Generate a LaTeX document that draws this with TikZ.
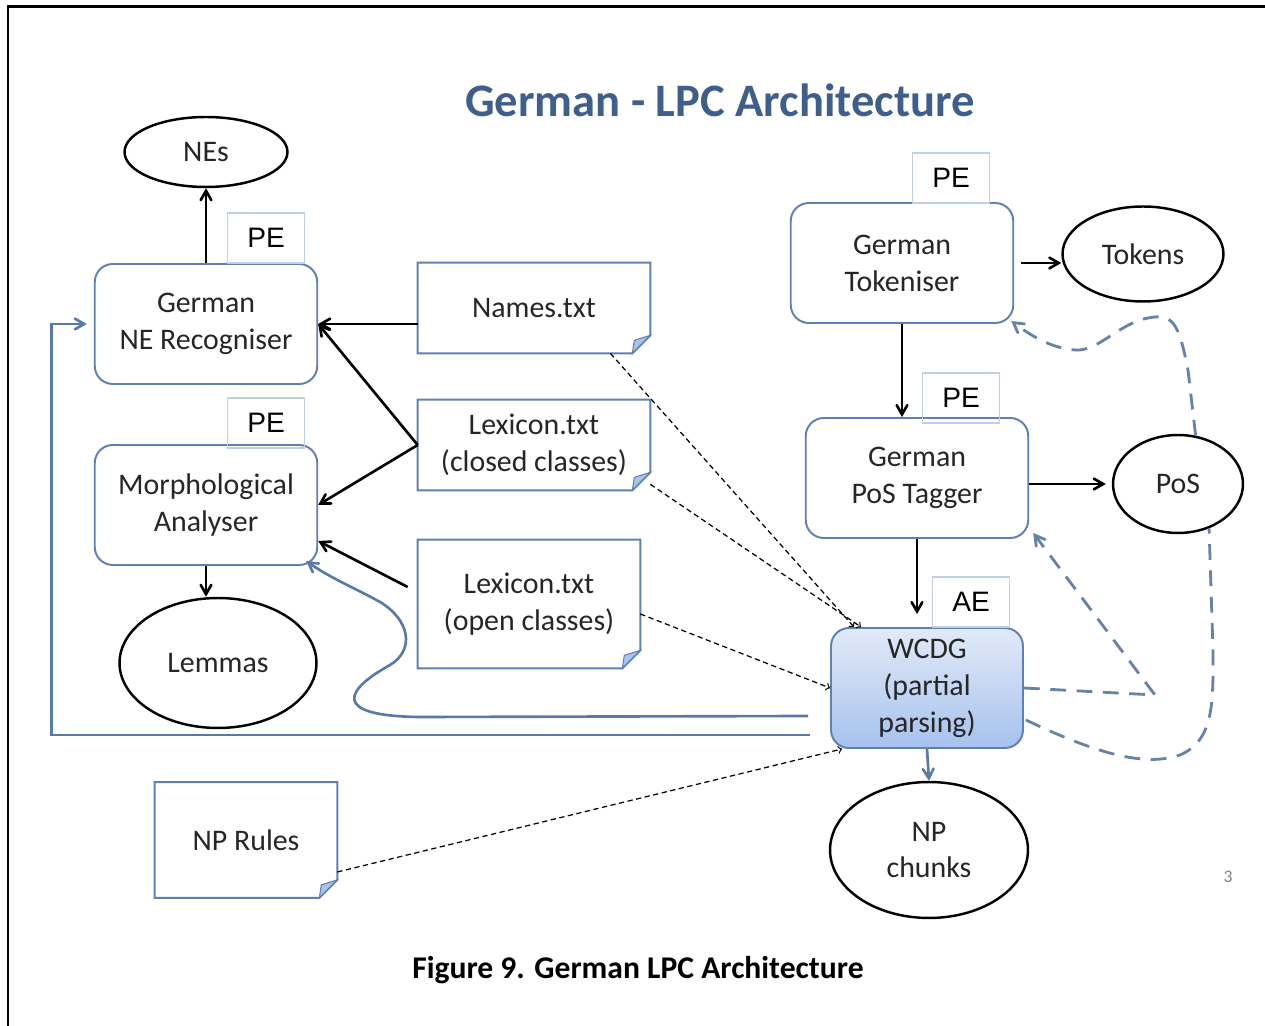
\documentclass[tikz,border=0pt]{standalone}
\usepackage{fontspec}
\setmainfont{Carlito}
\newfontfamily\tagfont{Liberation Sans}
\usetikzlibrary{shapes.geometric}
\usetikzlibrary{arrows}
\usetikzlibrary{calc}
\definecolor{boxblue}{RGB}{95,128,178}
\definecolor{tagblue}{RGB}{192,207,228}
\definecolor{lineblue}{RGB}{88,122,170}
\definecolor{dashblue}{RGB}{102,130,168}
\definecolor{titleblue}{RGB}{62,94,140}
\definecolor{foldblue}{RGB}{168,196,236}
\definecolor{wcdgtop}{RGB}{226,234,248}
\definecolor{wcdgbottom}{RGB}{166,194,238}
\definecolor{textgrey}{RGB}{38,38,38}

\begin{document}
\begin{tikzpicture}[x=0.02cm, y=-0.02cm,
	every node/.style={font=\fontsize{17}{21}\selectfont, text=textgrey, align=center, inner sep=0pt},
	procbox/.style={draw=boxblue, line width=1.1pt, rounded corners=0.36cm, fill=white, minimum width=4.45cm, minimum height=2.4cm},
	tagbox/.style={draw=tagblue, line width=0.8pt, minimum width=1.54cm, minimum height=1cm, font=\tagfont\fontsize{16}{18}\selectfont, text=black},
	outbox/.style={ellipse, draw=black, line width=1.4pt, fill=white},
	docbox/.style={minimum width=4.64cm, minimum height=1.8cm},
	flowarrow/.style={-angle 60, black, line width=1.5pt},
	feedarrow/.style={-angle 60, lineblue, line width=1.5pt},
	hintarrow/.style={->, black, line width=0.7pt, dash pattern=on 3pt off 2pt},
	loopdash/.style={-angle 60, dashblue, line width=1.6pt, dash pattern=on 9pt off 6pt}]
	\useasboundingbox (0,0) rectangle (1265,1026);
	\draw[line width=1.7pt] (8,1026) -- (8,7) -- (1265,7);
	\node[font=\fontsize{26.5}{30}\selectfont\bfseries, text=titleblue] (title) at (720,100) {German - LPC Architecture};
	\node[outbox, minimum width=3.26cm, minimum height=1.4cm] (nes) at (206,152) {NEs};
	\node[procbox] (ner) at (206,324) {German\\NE Recogniser};
	\node[procbox] (morph) at (206,505) {Morphological\\Analyser};
	\node[outbox, minimum width=3.94cm, minimum height=2.6cm] (lemmas) at (218,663) {Lemmas};
	\node[docbox] (names) at (534,308) {Names.txt};
	\node[docbox] (lexcl) at (534,445) {Lexicon.txt\\(closed classes)};
	\node[docbox, minimum width=4.44cm, minimum height=2.56cm] (lexop) at (529,604) {Lexicon.txt\\(open classes)};
	\node[docbox, minimum width=3.64cm, minimum height=2.3cm] (nprules) at (246,840) {NP Rules};
	\node[procbox] (tok) at (902,263) {German\\Tokeniser};
	\node[outbox, minimum width=3.22cm, minimum height=1.9cm] (tokens) at (1143,254) {Tokens};
	\node[procbox] (tagger) at (917,478) {German\\PoS Tagger};
	\node[outbox, minimum width=2.6cm, minimum height=1.96cm] (pos) at (1178,484) {PoS};
	\node[procbox, minimum width=3.84cm, top color=wcdgtop, bottom color=wcdgbottom] (wcdg) at (927,688) {WCDG\\(partial\\parsing)};
	\node[outbox, minimum width=3.96cm, minimum height=2.72cm] (npch) at (929,850) {NP\\chunks};
	\node[tagbox] (tagner) at (266,238) {PE};
	\node[tagbox] (tagmorph) at (266,423) {PE};
	\node[tagbox] (tagtok) at (951,178) {PE};
	\node[tagbox] (tagtagger) at (961,398) {PE};
	\node[tagbox] (tagwcdg) at (971,602) {AE};
	\node[font=\fontsize{10}{12}\selectfont, text=gray] (pagenum) at (1228,877) {3};
	\node[font=\fontsize{18}{22}\selectfont\bfseries, text=black] (caption) at (638,970) {Figure 9. German LPC Architecture};
	\foreach \n in {names,lexcl,lexop,nprules} {
		\draw[boxblue, line width=1.1pt] (\n.south west) -- (\n.north west) -- (\n.north east) -- ($(\n.south east)+(0,-18)$) -- ($(\n.south east)+(-18,0)$) -- cycle;
		\draw[boxblue, line width=0.6pt, fill=foldblue] ($(\n.south east)+(0,-18)$) -- ($(\n.south east)+(-16,-13)$) -- ($(\n.south east)+(-18,0)$) -- cycle;
	}
	\draw[flowarrow] (ner.north) -- (nes.south);
	\draw[flowarrow] (morph.south) -- (morph.south |- lemmas.north);
	\draw[flowarrow] (names.west |- ner.east) -- (ner.east);
	\draw[flowarrow] (lexcl.west) -- (ner.east);
	\draw[flowarrow] (lexcl.west) -- (morph.east);
	\draw[flowarrow] ($(lexop.west)+(-10,-17)$) -- ($(morph.south east)+(0,-25)$);
	\draw[flowarrow] ([xshift=0.14cm]tok.east) -- (tok.east -| tokens.west);
	\draw[flowarrow] (tok.south) -- (tok.south |- tagger.north);
	\draw[flowarrow] (tagger.east |- pos.west) -- ([xshift=-0.12cm]pos.west);
	\draw[flowarrow] (tagger.south) -- ([yshift=0.26cm]tagger.south |- wcdg.north);
	\draw[feedarrow] (wcdg.south) -- (npch.north);
	\draw[hintarrow] ($(names.south east)+(-40,0)$) -- ($(wcdg.north west)+(24,0)$);
	\draw[hintarrow] ($(lexcl.south east)+(0,-6)$) -- ($(wcdg.north west)+(31,0)$);
	\draw[hintarrow] ($(lexop.east)+(0,10)$) -- (wcdg.west);
	\draw[hintarrow] ($(nprules.east)+(0,32)$) -- ($(wcdg.south west)+(12,0)$);
	\coordinate (fbstart) at (810,735);
	\draw[feedarrow] (fbstart) -| ([xshift=-0.84cm]ner.west) -- ([xshift=-0.14cm]ner.west);
	\coordinate (cvstart) at (808,716);
	\draw[feedarrow] (cvstart) -- (420,717) .. controls (330,716) and (345,690) .. (390,665) .. controls (415,650) and (410,620) .. (380,602) .. controls (355,588) and (330,578) .. ($(morph.south east)+(-12,-5)$);
	\coordinate (loopbend) at (1155,695);
	\draw[loopdash] (wcdg.east) -- (loopbend) -- ($(tagger.south east)+(4,-6)$);
	\draw[loopdash, -] ($(wcdg.east)+(2,32)$) .. controls (1110,760) and (1150,765) .. (1180,755) .. controls (1215,740) and (1213,700) .. (1213,650) -- (pos.-55);
	\draw[loopdash] (pos.70) -- (1188,370) .. controls (1180,330) and (1175,315) .. (1155,317) .. controls (1120,320) and (1100,352) .. (1075,350) .. controls (1050,348) and (1030,335) .. ($(tok.south east)+(-3,-3)$);
\end{tikzpicture}
\end{document}
